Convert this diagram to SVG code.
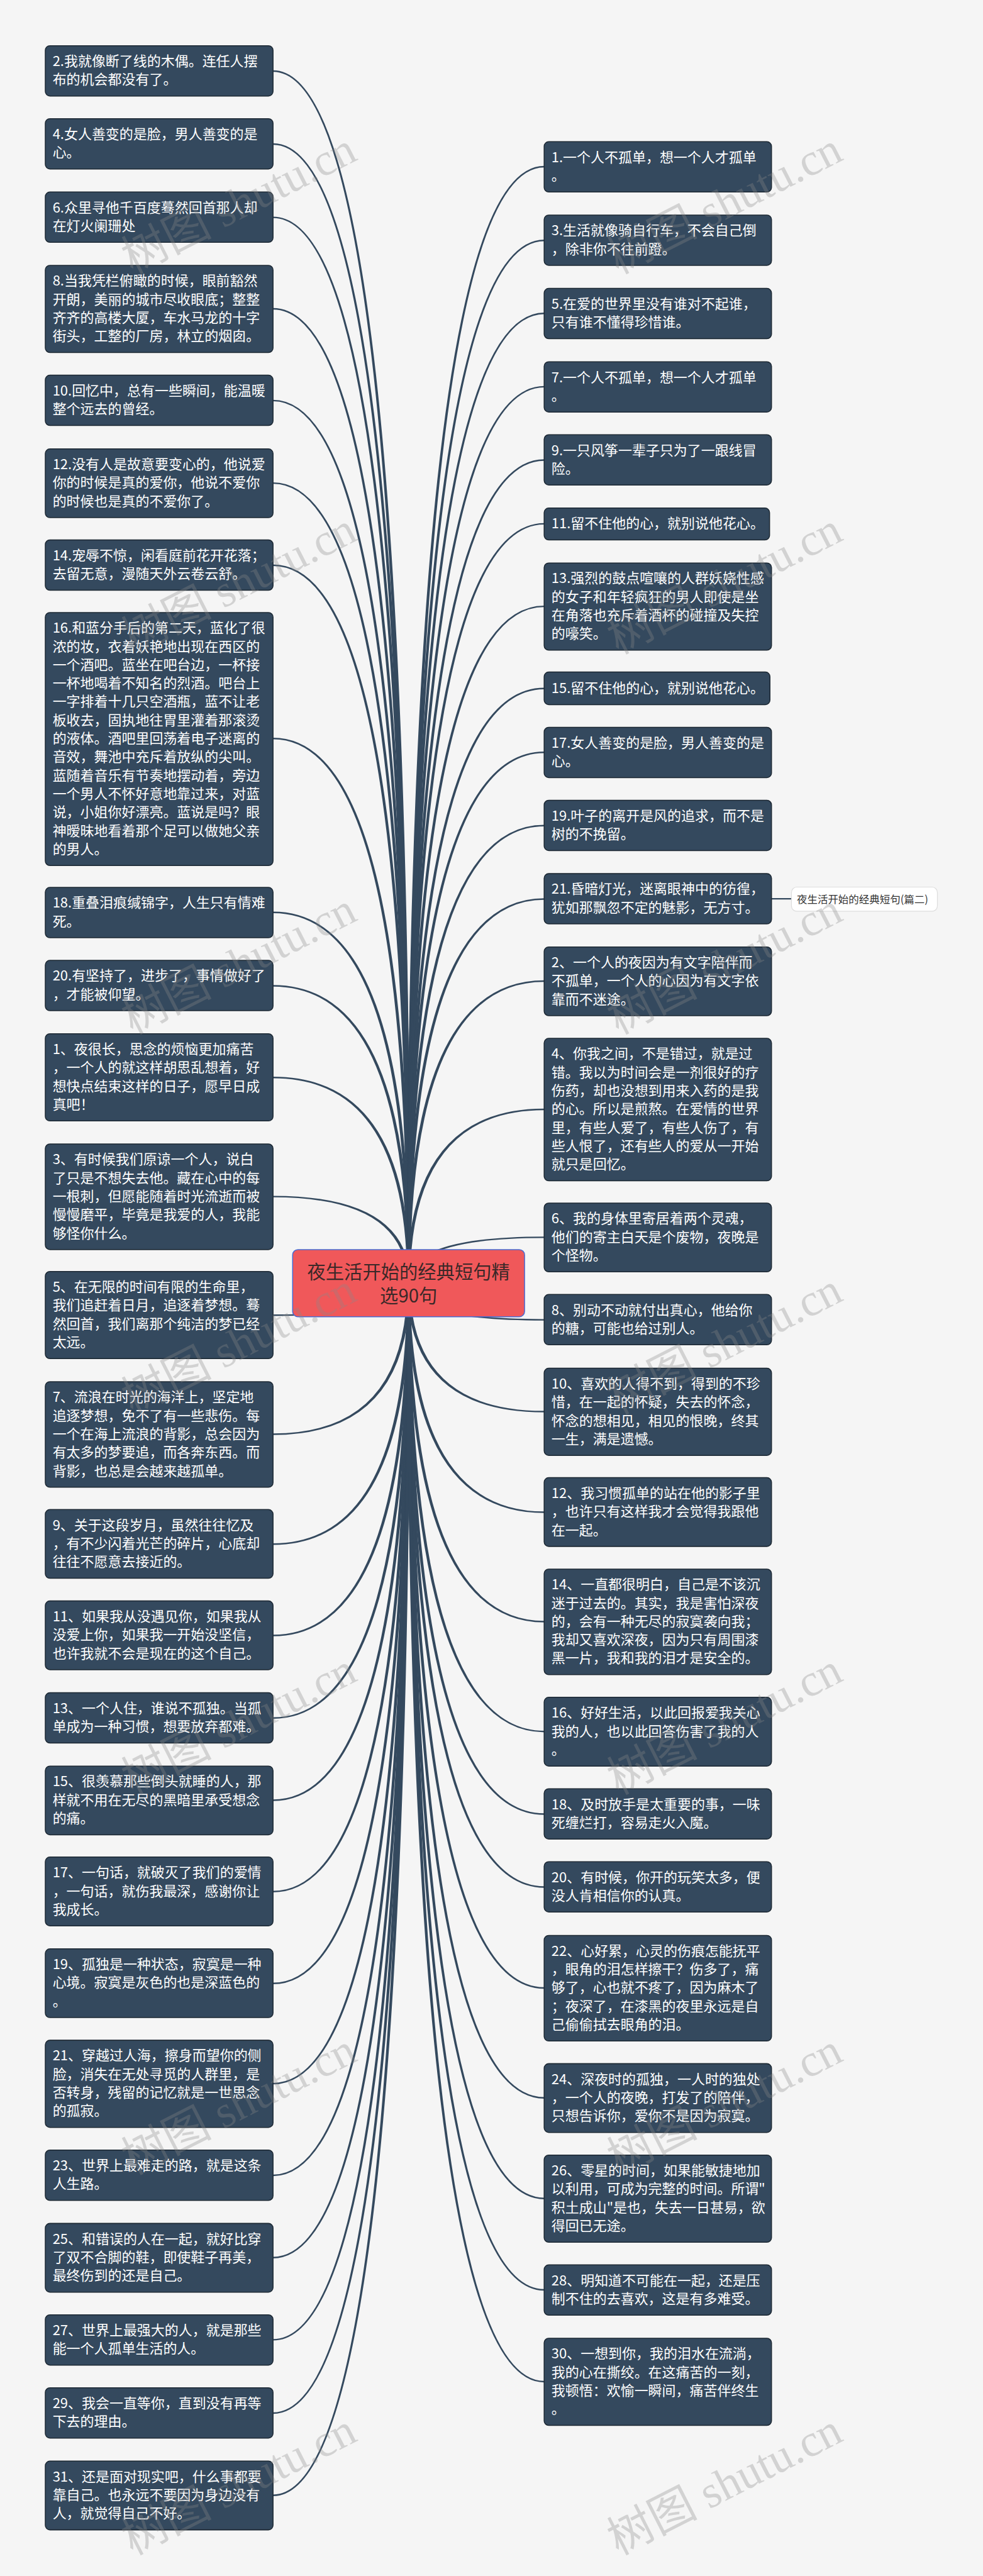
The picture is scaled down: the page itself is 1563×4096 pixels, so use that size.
<svg xmlns="http://www.w3.org/2000/svg" width="1563" height="4096" viewBox="0 0 1563 4096">
<style>
.n rect{fill:#34495e;stroke:#1c2833;stroke-width:2.5}
.n text{font-family:"Noto Sans CJK SC","Noto Sans",sans-serif;font-size:36px;fill:#ffffff}
.c path{fill:#34495e}
.wm{font-family:"Liberation Serif","Noto Sans CJK SC",serif;font-size:118px;fill:#8a8a8a;fill-opacity:0.32}
</style>
<rect x="0" y="0" width="1563" height="4096" fill="#f5f5f5"/>
<g transform="scale(0.6106)">
<g id="connectors" class="c">
<path d="M1068 3341Q1068 183 711 183L711 187Q1060 187 1060 3341Z"/>
<path d="M1068 3341Q1068 373 711 373L711 377Q1060 377 1060 3341Z"/>
<path d="M1068 3341Q1068 564 711 564L711 568Q1060 568 1060 3341Z"/>
<path d="M1068 3341Q1068 802 711 802L711 806Q1060 806 1060 3341Z"/>
<path d="M1068 3341Q1068 1041 711 1041L711 1045Q1060 1045 1060 3341Z"/>
<path d="M1068 3341Q1068 1256 711 1256L711 1260Q1060 1260 1060 3341Z"/>
<path d="M1068 3341Q1068 1470 711 1470L711 1474Q1060 1474 1060 3341Z"/>
<path d="M1068 3341Q1068 1921 711 1921L711 1925Q1060 1925 1060 3341Z"/>
<path d="M1068 3341Q1068 2374 711 2374L711 2378Q1060 2378 1060 3341Z"/>
<path d="M1068 3341Q1068 2565 711 2565L711 2569Q1060 2569 1060 3341Z"/>
<path d="M1068 3341Q1068 2804 711 2804L711 2808Q1060 2808 1060 3341Z"/>
<path d="M1068 3341Q1068 3114 711 3114L711 3118Q1060 3118 1060 3341Z"/>
<path d="M1068 3341Q1068 3427 711 3427L711 3423Q1060 3423 1060 3341Z"/>
<path d="M1068 3341Q1068 3737 711 3737L711 3733Q1060 3733 1060 3341Z"/>
<path d="M1068 3341Q1068 4023 711 4023L711 4019Q1060 4019 1060 3341Z"/>
<path d="M1068 3341Q1068 4261 711 4261L711 4257Q1060 4257 1060 3341Z"/>
<path d="M1068 3341Q1068 4476 711 4476L711 4472Q1060 4472 1060 3341Z"/>
<path d="M1068 3341Q1068 4690 711 4690L711 4686Q1060 4686 1060 3341Z"/>
<path d="M1068 3341Q1068 4928 711 4928L711 4924Q1060 4924 1060 3341Z"/>
<path d="M1068 3341Q1068 5167 711 5167L711 5163Q1060 5163 1060 3341Z"/>
<path d="M1068 3341Q1068 5428 711 5428L711 5424Q1060 5424 1060 3341Z"/>
<path d="M1068 3341Q1068 5667 711 5667L711 5663Q1060 5663 1060 3341Z"/>
<path d="M1068 3341Q1068 5881 711 5881L711 5877Q1060 5877 1060 3341Z"/>
<path d="M1068 3341Q1068 6095 711 6095L711 6091Q1060 6091 1060 3341Z"/>
<path d="M1068 3341Q1068 6286 711 6286L711 6282Q1060 6282 1060 3341Z"/>
<path d="M1068 3341Q1068 6500 711 6500L711 6496Q1060 6496 1060 3341Z"/>
<path d="M1068 3341Q1068 436 1417 436L1417 432Q1060 432 1060 3341Z"/>
<path d="M1068 3341Q1068 628 1417 628L1417 624Q1060 624 1060 3341Z"/>
<path d="M1068 3341Q1068 818 1417 818L1417 814Q1060 814 1060 3341Z"/>
<path d="M1068 3341Q1068 1009 1417 1009L1417 1005Q1060 1005 1060 3341Z"/>
<path d="M1068 3341Q1068 1200 1417 1200L1417 1196Q1060 1196 1060 3341Z"/>
<path d="M1068 3341Q1068 1366 1417 1366L1417 1362Q1060 1362 1060 3341Z"/>
<path d="M1068 3341Q1068 1581 1417 1581L1417 1577Q1060 1577 1060 3341Z"/>
<path d="M1068 3341Q1068 1795 1417 1795L1417 1791Q1060 1791 1060 3341Z"/>
<path d="M1068 3341Q1068 1961 1417 1961L1417 1957Q1060 1957 1060 3341Z"/>
<path d="M1068 3341Q1068 2152 1417 2152L1417 2148Q1060 2148 1060 3341Z"/>
<path d="M1068 3341Q1068 2343 1417 2343L1417 2339Q1060 2339 1060 3341Z"/>
<path d="M1068 3341Q1068 2557 1417 2557L1417 2553Q1060 2553 1060 3341Z"/>
<path d="M1068 3341Q1068 2891 1417 2891L1417 2887Q1060 2887 1060 3341Z"/>
<path d="M1068 3341Q1068 3224 1417 3224L1417 3220Q1060 3220 1060 3341Z"/>
<path d="M1068 3341Q1068 3435 1417 3435L1417 3439Q1060 3439 1060 3341Z"/>
<path d="M1068 3341Q1068 3674 1417 3674L1417 3678Q1060 3678 1060 3341Z"/>
<path d="M1068 3341Q1068 3936 1417 3936L1417 3940Q1060 3940 1060 3341Z"/>
<path d="M1068 3341Q1068 4221 1417 4221L1417 4225Q1060 4225 1060 3341Z"/>
<path d="M1068 3341Q1068 4507 1417 4507L1417 4511Q1060 4511 1060 3341Z"/>
<path d="M1068 3341Q1068 4722 1417 4722L1417 4726Q1060 4726 1060 3341Z"/>
<path d="M1068 3341Q1068 4912 1417 4912L1417 4916Q1060 4916 1060 3341Z"/>
<path d="M1068 3341Q1068 5175 1417 5175L1417 5179Q1060 5179 1060 3341Z"/>
<path d="M1068 3341Q1068 5461 1417 5461L1417 5465Q1060 5465 1060 3341Z"/>
<path d="M1068 3341Q1068 5723 1417 5723L1417 5727Q1060 5727 1060 3341Z"/>
<path d="M1068 3341Q1068 5961 1417 5961L1417 5965Q1060 5965 1060 3341Z"/>
<path d="M1068 3341Q1068 6200 1417 6200L1417 6204Q1060 6204 1060 3341Z"/>
<path d="M2009 2338.5L2061 2338.5L2061 2342.5L2009 2342.5Z"/>
</g>
<g id="center">
<rect x="762" y="3254" width="604" height="175" rx="14" fill="#f0585a" stroke="#4a6ad0" stroke-width="2.5"/>
<text x="1064" y="3330" text-anchor="middle" font-family="Noto Sans CJK SC, sans-serif" font-size="48" fill="#3a2828">夜生活开始的经典短句精</text>
<text x="1064" y="3392" text-anchor="middle" font-family="Noto Sans CJK SC, sans-serif" font-size="48" fill="#3a2828">选90句</text>
</g>
<g id="label">
<rect x="2061" y="2310" width="380" height="63" rx="14" fill="#ffffff" stroke="#dddddd" stroke-width="2"/>
<text x="2075" y="2352" font-family="Noto Sans CJK SC, sans-serif" font-size="27" fill="#333333">夜生活开始的经典短句(篇二)</text>
</g>
<g id="l1" class="n"><rect x="118" y="119" width="593" height="131" rx="12"/><text><tspan x="137" y="172">2.我就像断了线的木偶。连任人摆</tspan><tspan x="137" y="220">布的机会都没有了。</tspan></text></g>
<g id="l2" class="n"><rect x="118" y="309" width="593" height="131" rx="12"/><text><tspan x="137" y="362">4.女人善变的是脸，男人善变的是</tspan><tspan x="137" y="410">心。</tspan></text></g>
<g id="l3" class="n"><rect x="118" y="500" width="593" height="131" rx="12"/><text><tspan x="137" y="553">6.众里寻他千百度蓦然回首那人却</tspan><tspan x="137" y="601">在灯火阑珊处</tspan></text></g>
<g id="l4" class="n"><rect x="118" y="691" width="593" height="227" rx="12"/><text><tspan x="137" y="744">8.当我凭栏俯瞰的时候，眼前豁然</tspan><tspan x="137" y="792">开朗，美丽的城市尽收眼底；整整</tspan><tspan x="137" y="840">齐齐的高楼大厦，车水马龙的十字</tspan><tspan x="137" y="888">街头，工整的厂房，林立的烟囱。</tspan></text></g>
<g id="l5" class="n"><rect x="118" y="977" width="593" height="131" rx="12"/><text><tspan x="137" y="1030">10.回忆中，总有一些瞬间，能温暖</tspan><tspan x="137" y="1078">整个远去的曾经。</tspan></text></g>
<g id="l6" class="n"><rect x="118" y="1169" width="593" height="179" rx="12"/><text><tspan x="137" y="1222">12.没有人是故意要变心的，他说爱</tspan><tspan x="137" y="1270">你的时候是真的爱你，他说不爱你</tspan><tspan x="137" y="1318">的时候也是真的不爱你了。</tspan></text></g>
<g id="l7" class="n"><rect x="118" y="1406" width="593" height="131" rx="12"/><text><tspan x="137" y="1459">14.宠辱不惊，闲看庭前花开花落；</tspan><tspan x="137" y="1507">去留无意，漫随天外云卷云舒。</tspan></text></g>
<g id="l8" class="n"><rect x="118" y="1595" width="593" height="659" rx="12"/><text><tspan x="137" y="1648">16.和蓝分手后的第二天，蓝化了很</tspan><tspan x="137" y="1696">浓的妆，衣着妖艳地出现在西区的</tspan><tspan x="137" y="1744">一个酒吧。蓝坐在吧台边，一杯接</tspan><tspan x="137" y="1792">一杯地喝着不知名的烈酒。吧台上</tspan><tspan x="137" y="1840">一字排着十几只空酒瓶，蓝不让老</tspan><tspan x="137" y="1888">板收去，固执地往胃里灌着那滚烫</tspan><tspan x="137" y="1936">的液体。酒吧里回荡着电子迷离的</tspan><tspan x="137" y="1984">音效，舞池中充斥着放纵的尖叫。</tspan><tspan x="137" y="2032">蓝随着音乐有节奏地摆动着，旁边</tspan><tspan x="137" y="2080">一个男人不怀好意地靠过来，对蓝</tspan><tspan x="137" y="2128">说，小姐你好漂亮。蓝说是吗？眼</tspan><tspan x="137" y="2176">神暧昧地看着那个足可以做她父亲</tspan><tspan x="137" y="2224">的男人。</tspan></text></g>
<g id="l9" class="n"><rect x="118" y="2311" width="593" height="131" rx="12"/><text><tspan x="137" y="2364">18.重叠泪痕缄锦字，人生只有情难</tspan><tspan x="137" y="2412">死。</tspan></text></g>
<g id="l10" class="n"><rect x="118" y="2501" width="593" height="131" rx="12"/><text><tspan x="137" y="2554">20.有坚持了，进步了，事情做好了</tspan><tspan x="137" y="2602">，才能被仰望。</tspan></text></g>
<g id="l11" class="n"><rect x="118" y="2692" width="593" height="227" rx="12"/><text><tspan x="137" y="2745">1、夜很长，思念的烦恼更加痛苦</tspan><tspan x="137" y="2793">，一个人的就这样胡思乱想着，好</tspan><tspan x="137" y="2841">想快点结束这样的日子，愿早日成</tspan><tspan x="137" y="2889">真吧！</tspan></text></g>
<g id="l12" class="n"><rect x="118" y="2979" width="593" height="275" rx="12"/><text><tspan x="137" y="3032">3、有时候我们原谅一个人，说白</tspan><tspan x="137" y="3080">了只是不想失去他。藏在心中的每</tspan><tspan x="137" y="3128">一根刺，但愿能随着时光流逝而被</tspan><tspan x="137" y="3176">慢慢磨平，毕竟是我爱的人，我能</tspan><tspan x="137" y="3224">够怪你什么。</tspan></text></g>
<g id="l13" class="n"><rect x="118" y="3311" width="593" height="227" rx="12"/><text><tspan x="137" y="3364">5、在无限的时间有限的生命里，</tspan><tspan x="137" y="3412">我们追赶着日月，追逐着梦想。蓦</tspan><tspan x="137" y="3460">然回首，我们离那个纯洁的梦已经</tspan><tspan x="137" y="3508">太远。</tspan></text></g>
<g id="l14" class="n"><rect x="118" y="3598" width="593" height="275" rx="12"/><text><tspan x="137" y="3651">7、流浪在时光的海洋上，坚定地</tspan><tspan x="137" y="3699">追逐梦想，免不了有一些悲伤。每</tspan><tspan x="137" y="3747">一个在海上流浪的背影，总会因为</tspan><tspan x="137" y="3795">有太多的梦要追，而各奔东西。而</tspan><tspan x="137" y="3843">背影，也总是会越来越孤单。</tspan></text></g>
<g id="l15" class="n"><rect x="118" y="3931" width="593" height="179" rx="12"/><text><tspan x="137" y="3984">9、关于这段岁月，虽然往往忆及</tspan><tspan x="137" y="4032">，有不少闪着光芒的碎片，心底却</tspan><tspan x="137" y="4080">往往不愿意去接近的。</tspan></text></g>
<g id="l16" class="n"><rect x="118" y="4169" width="593" height="179" rx="12"/><text><tspan x="137" y="4222">11、如果我从没遇见你，如果我从</tspan><tspan x="137" y="4270">没爱上你，如果我一开始没坚信，</tspan><tspan x="137" y="4318">也许我就不会是现在的这个自己。</tspan></text></g>
<g id="l17" class="n"><rect x="118" y="4408" width="593" height="131" rx="12"/><text><tspan x="137" y="4461">13、一个人住，谁说不孤独。当孤</tspan><tspan x="137" y="4509">单成为一种习惯，想要放弃都难。</tspan></text></g>
<g id="l18" class="n"><rect x="118" y="4599" width="593" height="179" rx="12"/><text><tspan x="137" y="4652">15、很羡慕那些倒头就睡的人，那</tspan><tspan x="137" y="4700">样就不用在无尽的黑暗里承受想念</tspan><tspan x="137" y="4748">的痛。</tspan></text></g>
<g id="l19" class="n"><rect x="118" y="4836" width="593" height="179" rx="12"/><text><tspan x="137" y="4889">17、一句话，就破灭了我们的爱情</tspan><tspan x="137" y="4937">，一句话，就伤我最深，感谢你让</tspan><tspan x="137" y="4985">我成长。</tspan></text></g>
<g id="l20" class="n"><rect x="118" y="5075" width="593" height="179" rx="12"/><text><tspan x="137" y="5128">19、孤独是一种状态，寂寞是一种</tspan><tspan x="137" y="5176">心境。寂寞是灰色的也是深蓝色的</tspan><tspan x="137" y="5224">。</tspan></text></g>
<g id="l21" class="n"><rect x="118" y="5313" width="593" height="227" rx="12"/><text><tspan x="137" y="5366">21、穿越过人海，擦身而望你的侧</tspan><tspan x="137" y="5414">脸，消失在无处寻觅的人群里，是</tspan><tspan x="137" y="5462">否转身，残留的记忆就是一世思念</tspan><tspan x="137" y="5510">的孤寂。</tspan></text></g>
<g id="l22" class="n"><rect x="118" y="5599" width="593" height="131" rx="12"/><text><tspan x="137" y="5652">23、世界上最难走的路，就是这条</tspan><tspan x="137" y="5700">人生路。</tspan></text></g>
<g id="l23" class="n"><rect x="118" y="5790" width="593" height="179" rx="12"/><text><tspan x="137" y="5843">25、和错误的人在一起，就好比穿</tspan><tspan x="137" y="5891">了双不合脚的鞋，即使鞋子再美，</tspan><tspan x="137" y="5939">最终伤到的还是自己。</tspan></text></g>
<g id="l24" class="n"><rect x="118" y="6028" width="593" height="131" rx="12"/><text><tspan x="137" y="6081">27、世界上最强大的人，就是那些</tspan><tspan x="137" y="6129">能一个人孤单生活的人。</tspan></text></g>
<g id="l25" class="n"><rect x="118" y="6218" width="593" height="131" rx="12"/><text><tspan x="137" y="6271">29、我会一直等你，直到没有再等</tspan><tspan x="137" y="6319">下去的理由。</tspan></text></g>
<g id="l26" class="n"><rect x="118" y="6409" width="593" height="179" rx="12"/><text><tspan x="137" y="6462">31、还是面对现实吧，什么事都要</tspan><tspan x="137" y="6510">靠自己。也永远不要因为身边没有</tspan><tspan x="137" y="6558">人，就觉得自己不好。</tspan></text></g>
<g id="r1" class="n"><rect x="1417" y="369" width="592" height="131" rx="12"/><text><tspan x="1436" y="422">1.一个人不孤单，想一个人才孤单</tspan><tspan x="1436" y="470">。</tspan></text></g>
<g id="r2" class="n"><rect x="1417" y="560" width="592" height="131" rx="12"/><text><tspan x="1436" y="613">3.生活就像骑自行车，不会自己倒</tspan><tspan x="1436" y="661">，除非你不往前蹬。</tspan></text></g>
<g id="r3" class="n"><rect x="1417" y="751" width="592" height="131" rx="12"/><text><tspan x="1436" y="804">5.在爱的世界里没有谁对不起谁，</tspan><tspan x="1436" y="852">只有谁不懂得珍惜谁。</tspan></text></g>
<g id="r4" class="n"><rect x="1417" y="942" width="592" height="131" rx="12"/><text><tspan x="1436" y="995">7.一个人不孤单，想一个人才孤单</tspan><tspan x="1436" y="1043">。</tspan></text></g>
<g id="r5" class="n"><rect x="1417" y="1132" width="592" height="131" rx="12"/><text><tspan x="1436" y="1185">9.一只风筝一辈子只为了一跟线冒</tspan><tspan x="1436" y="1233">险。</tspan></text></g>
<g id="r6" class="n"><rect x="1417" y="1323" width="587" height="83" rx="12"/><text><tspan x="1436" y="1376">11.留不住他的心，就别说他花心。</tspan></text></g>
<g id="r7" class="n"><rect x="1417" y="1466" width="592" height="227" rx="12"/><text><tspan x="1436" y="1519">13.强烈的鼓点喧嚷的人群妖娆性感</tspan><tspan x="1436" y="1567">的女子和年轻疯狂的男人即使是坐</tspan><tspan x="1436" y="1615">在角落也充斥着酒杯的碰撞及失控</tspan><tspan x="1436" y="1663">的嚎笑。</tspan></text></g>
<g id="r8" class="n"><rect x="1417" y="1750" width="588" height="85" rx="12"/><text><tspan x="1436" y="1804">15.留不住他的心，就别说他花心。</tspan></text></g>
<g id="r9" class="n"><rect x="1417" y="1894" width="592" height="131" rx="12"/><text><tspan x="1436" y="1947">17.女人善变的是脸，男人善变的是</tspan><tspan x="1436" y="1995">心。</tspan></text></g>
<g id="r10" class="n"><rect x="1417" y="2084" width="592" height="131" rx="12"/><text><tspan x="1436" y="2137">19.叶子的离开是风的追求，而不是</tspan><tspan x="1436" y="2185">树的不挽留。</tspan></text></g>
<g id="r11" class="n"><rect x="1417" y="2275" width="592" height="131" rx="12"/><text><tspan x="1436" y="2328">21.昏暗灯光，迷离眼神中的彷徨，</tspan><tspan x="1436" y="2376">犹如那飘忽不定的魅影，无方寸。</tspan></text></g>
<g id="r12" class="n"><rect x="1417" y="2466" width="592" height="179" rx="12"/><text><tspan x="1436" y="2519">2、一个人的夜因为有文字陪伴而</tspan><tspan x="1436" y="2567">不孤单，一个人的心因为有文字依</tspan><tspan x="1436" y="2615">靠而不迷途。</tspan></text></g>
<g id="r13" class="n"><rect x="1417" y="2704" width="592" height="371" rx="12"/><text><tspan x="1436" y="2757">4、你我之间，不是错过，就是过</tspan><tspan x="1436" y="2805">错。我以为时间会是一剂很好的疗</tspan><tspan x="1436" y="2853">伤药，却也没想到用来入药的是我</tspan><tspan x="1436" y="2901">的心。所以是煎熬。在爱情的世界</tspan><tspan x="1436" y="2949">里，有些人爱了，有些人伤了，有</tspan><tspan x="1436" y="2997">些人恨了，还有些人的爱从一开始</tspan><tspan x="1436" y="3045">就只是回忆。</tspan></text></g>
<g id="r14" class="n"><rect x="1417" y="3133" width="592" height="179" rx="12"/><text><tspan x="1436" y="3186">6、我的身体里寄居着两个灵魂，</tspan><tspan x="1436" y="3234">他们的寄主白天是个废物，夜晚是</tspan><tspan x="1436" y="3282">个怪物。</tspan></text></g>
<g id="r15" class="n"><rect x="1417" y="3371" width="592" height="131" rx="12"/><text><tspan x="1436" y="3424">8、别动不动就付出真心，他给你</tspan><tspan x="1436" y="3472">的糖，可能也给过别人。</tspan></text></g>
<g id="r16" class="n"><rect x="1417" y="3563" width="592" height="227" rx="12"/><text><tspan x="1436" y="3616">10、喜欢的人得不到，得到的不珍</tspan><tspan x="1436" y="3664">惜，在一起的怀疑，失去的怀念，</tspan><tspan x="1436" y="3712">怀念的想相见，相见的恨晚，终其</tspan><tspan x="1436" y="3760">一生，满是遗憾。</tspan></text></g>
<g id="r17" class="n"><rect x="1417" y="3848" width="592" height="179" rx="12"/><text><tspan x="1436" y="3901">12、我习惯孤单的站在他的影子里</tspan><tspan x="1436" y="3949">，也许只有这样我才会觉得我跟他</tspan><tspan x="1436" y="3997">在一起。</tspan></text></g>
<g id="r18" class="n"><rect x="1417" y="4086" width="592" height="275" rx="12"/><text><tspan x="1436" y="4139">14、一直都很明白，自己是不该沉</tspan><tspan x="1436" y="4187">迷于过去的。其实，我是害怕深夜</tspan><tspan x="1436" y="4235">的，会有一种无尽的寂寞袭向我；</tspan><tspan x="1436" y="4283">我却又喜欢深夜，因为只有周围漆</tspan><tspan x="1436" y="4331">黑一片，我和我的泪才是安全的。</tspan></text></g>
<g id="r19" class="n"><rect x="1417" y="4420" width="592" height="179" rx="12"/><text><tspan x="1436" y="4473">16、好好生活，以此回报爱我关心</tspan><tspan x="1436" y="4521">我的人，也以此回答伤害了我的人</tspan><tspan x="1436" y="4569">。</tspan></text></g>
<g id="r20" class="n"><rect x="1417" y="4658" width="592" height="131" rx="12"/><text><tspan x="1436" y="4711">18、及时放手是太重要的事，一味</tspan><tspan x="1436" y="4759">死缠烂打，容易走火入魔。</tspan></text></g>
<g id="r21" class="n"><rect x="1417" y="4848" width="592" height="131" rx="12"/><text><tspan x="1436" y="4901">20、有时候，你开的玩笑太多，便</tspan><tspan x="1436" y="4949">没人肯相信你的认真。</tspan></text></g>
<g id="r22" class="n"><rect x="1417" y="5040" width="592" height="275" rx="12"/><text><tspan x="1436" y="5093">22、心好累，心灵的伤痕怎能抚平</tspan><tspan x="1436" y="5141">，眼角的泪怎样擦干？伤多了，痛</tspan><tspan x="1436" y="5189">够了，心也就不疼了，因为麻木了</tspan><tspan x="1436" y="5237">；夜深了，在漆黑的夜里永远是自</tspan><tspan x="1436" y="5285">己偷偷拭去眼角的泪。</tspan></text></g>
<g id="r23" class="n"><rect x="1417" y="5374" width="592" height="179" rx="12"/><text><tspan x="1436" y="5427">24、深夜时的孤独，一人时的独处</tspan><tspan x="1436" y="5475">，一个人的夜晚，打发了的陪伴，</tspan><tspan x="1436" y="5523">只想告诉你，爱你不是因为寂寞。</tspan></text></g>
<g id="r24" class="n"><rect x="1417" y="5612" width="592" height="227" rx="12"/><text><tspan x="1436" y="5665">26、零星的时间，如果能敏捷地加</tspan><tspan x="1436" y="5713">以利用，可成为完整的时间。所谓"</tspan><tspan x="1436" y="5761">积土成山"是也，失去一日甚易，欲</tspan><tspan x="1436" y="5809">得回已无途。</tspan></text></g>
<g id="r25" class="n"><rect x="1417" y="5898" width="592" height="131" rx="12"/><text><tspan x="1436" y="5951">28、明知道不可能在一起，还是压</tspan><tspan x="1436" y="5999">制不住的去喜欢，这是有多难受。</tspan></text></g>
<g id="r26" class="n"><rect x="1417" y="6089" width="592" height="227" rx="12"/><text><tspan x="1436" y="6142">30、一想到你，我的泪水在流淌，</tspan><tspan x="1436" y="6190">我的心在撕绞。在这痛苦的一刻，</tspan><tspan x="1436" y="6238">我顿悟：欢愉一瞬间，痛苦伴终生</tspan><tspan x="1436" y="6286">。</tspan></text></g>
<g id="watermarks">
<text class="wm" transform="translate(345 715) rotate(-27)">树图 shutu.cn</text>
<text class="wm" transform="translate(345 1705) rotate(-27)">树图 shutu.cn</text>
<text class="wm" transform="translate(345 2695) rotate(-27)">树图 shutu.cn</text>
<text class="wm" transform="translate(345 3685) rotate(-27)">树图 shutu.cn</text>
<text class="wm" transform="translate(345 4675) rotate(-27)">树图 shutu.cn</text>
<text class="wm" transform="translate(345 5665) rotate(-27)">树图 shutu.cn</text>
<text class="wm" transform="translate(345 6655) rotate(-27)">树图 shutu.cn</text>
<text class="wm" transform="translate(1610 715) rotate(-27)">树图 shutu.cn</text>
<text class="wm" transform="translate(1610 1705) rotate(-27)">树图 shutu.cn</text>
<text class="wm" transform="translate(1610 2695) rotate(-27)">树图 shutu.cn</text>
<text class="wm" transform="translate(1610 3685) rotate(-27)">树图 shutu.cn</text>
<text class="wm" transform="translate(1610 4675) rotate(-27)">树图 shutu.cn</text>
<text class="wm" transform="translate(1610 5665) rotate(-27)">树图 shutu.cn</text>
<text class="wm" transform="translate(1610 6655) rotate(-27)">树图 shutu.cn</text>
</g>
</g>
</svg>
